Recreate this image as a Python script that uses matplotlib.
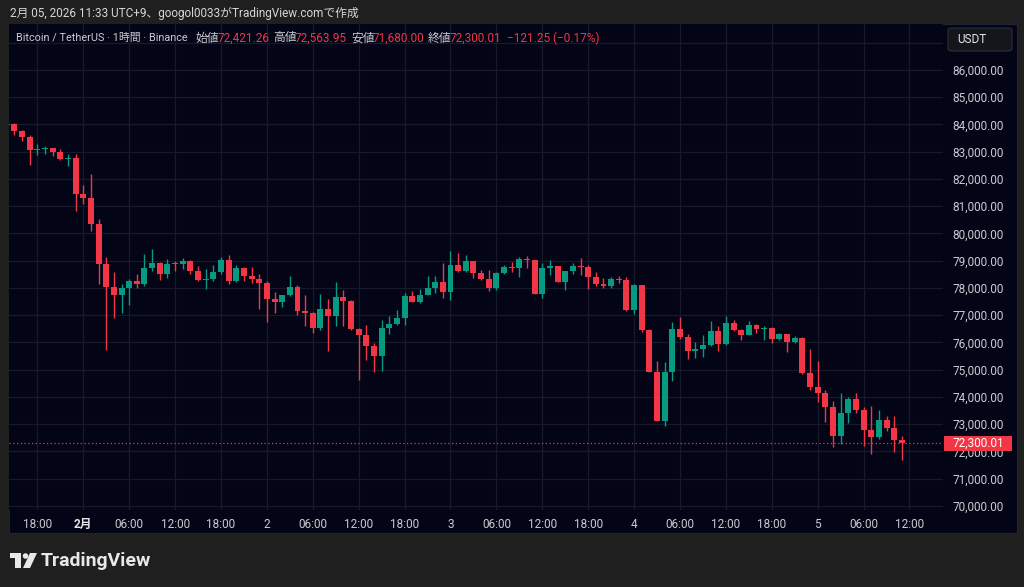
import matplotlib
matplotlib.use("Agg")
import matplotlib.pyplot as plt
from matplotlib.patches import Rectangle, FancyBboxPatch, Ellipse, Polygon

plt.rcParams['font.family'] = ['Roboto', 'Noto Sans CJK JP', 'DejaVu Sans']

# hourly candles, hour 0 = 2月1日 00:00 (UTC+9)
hours = list(range(-10, 108))
opens = [83990, 84000, 83755, 83535, 83058, 83095, 83130, 83000, 82740, 82780,
         81456, 81285, 80340, 78875, 78031, 77737, 77982, 78275, 78130, 78728,
         78900, 78508, 78895, 78870, 79000, 78620, 78290, 78320, 78580, 79020,
         78250, 78730, 78430, 78315, 78190, 77580, 77480, 77740, 78020, 77165,
         77090, 76516, 77240, 76960, 77655, 77520, 76490, 76285, 75880, 75500,
         76550, 76665, 76885, 77715, 77495, 77750, 77985, 78230, 77840, 78840,
         78620, 78990, 78560, 78330, 78000, 78535, 78780, 78745, 79060, 79025,
         77790, 78745, 78790, 78230, 78610, 78790, 78755, 78400, 78130, 78070,
         78315, 78290, 77190, 78120, 76470, 74905, 73130, 74930, 76480, 76215,
         75690, 75760, 75910, 76420, 75945, 76700, 76470, 76275, 76640, 76500,
         76550, 76115, 76300, 76005, 76165, 74870, 74355, 74135, 73615, 72560,
         73410, 73920, 73505, 72795, 72525, 73150, 72855, 72421.26]
highs = [84030, 84037, 83790, 83620, 83300, 83200, 83150, 83110, 82900, 82924,
         81786, 82190, 80535, 79120, 78570, 78130, 78336, 78500, 79230, 79413,
         78948, 79046, 78985, 79110, 79020, 78800, 78680, 78860, 79120, 79200,
         78860, 78755, 78755, 78510, 78265, 77838, 77740, 78437, 78110, 77740,
         77130, 77777, 77600, 78230, 77935, 77545, 76550, 76640, 75980, 76835,
         76960, 77190, 77815, 77885, 77960, 78450, 78450, 78900, 79340, 79280,
         79210, 78990, 78670, 78660, 78570, 78850, 78960, 79120, 79180, 79025,
         78910, 79010, 78790, 78640, 78925, 79100, 78840, 78580, 78350, 78410,
         78450, 78410, 78140, 78120, 76500, 75320, 75300, 76740, 76950, 76300,
         76000, 76275, 76800, 76620, 76985, 76830, 76510, 76790, 76670, 76590,
         76580, 76340, 76300, 76250, 76190, 75760, 75320, 74250, 73850, 74140,
         73990, 74140, 73625, 73675, 73530, 73320, 73320, 72563.95]
lows = [83960, 83620, 83390, 82530, 82890, 82900, 82840, 82690, 82470, 80820,
        81065, 80086, 78153, 75718, 76905, 77077, 77370, 77982, 78070, 78630,
        78287, 78360, 78640, 78700, 78520, 78250, 77945, 78240, 78530, 78130,
        78225, 78240, 78200, 77226, 76760, 77080, 77300, 77715, 77006, 76615,
        76346, 76470, 75700, 76615, 76615, 76470, 74620, 75360, 74900, 74960,
        76310, 76640, 76650, 77470, 77460, 77740, 77810, 77630, 77570, 78600,
        78600, 78380, 78300, 77900, 77940, 78500, 78570, 78410, 78720, 77780,
        77650, 78470, 78230, 77930, 78500, 78490, 77950, 78080, 78000, 78000,
        78170, 77150, 77040, 76400, 74900, 73130, 72950, 74590, 76130, 75400,
        75420, 75470, 75880, 75700, 75920, 76410, 76100, 76260, 76340, 76080,
        75970, 76090, 75660, 75980, 74845, 74270, 73800, 73090, 72170, 72280,
        73050, 73420, 72210, 71890, 72475, 72760, 71990, 71680.00]
closes = [84010, 83755, 83535, 83058, 83095, 83130, 83000, 82740, 82780, 81456,
          81285, 80340, 78875, 78031, 77737, 77982, 78275, 78130, 78728, 78900,
          78508, 78895, 78870, 79000, 78620, 78290, 78320, 78580, 79020, 78250,
          78730, 78430, 78315, 78190, 77580, 77480, 77740, 78020, 77165, 77090,
          76516, 77240, 76960, 77655, 77520, 76490, 76285, 75880, 75500, 76550,
          76665, 76885, 77715, 77495, 77750, 77985, 78230, 77840, 78840, 78620,
          78990, 78560, 78330, 78000, 78535, 78780, 78745, 79060, 79025, 77790,
          78745, 78790, 78230, 78610, 78790, 78755, 78400, 78130, 78070, 78315,
          78290, 77190, 78120, 76470, 74905, 73130, 74930, 76480, 76215, 75690,
          75760, 75910, 76420, 75945, 76700, 76470, 76275, 76640, 76500, 76550,
          76115, 76300, 76005, 76165, 74870, 74355, 74135, 73615, 72560, 73410,
          73920, 73505, 72795, 72525, 73150, 72855, 72421, 72300.01]

price_ticks = list(range(70000, 87000, 1000))
grid_prices = list(range(70000, 88000, 1000))
time_ticks = list(range(-6, 109, 6))
time_labels = ["18:00", "2月", "06:00", "12:00", "18:00", "2", "06:00", "12:00",
               "18:00", "3", "06:00", "12:00", "18:00", "4", "06:00", "12:00",
               "18:00", "5", "06:00", "12:00"]
last_price = 72300.01

W, H = 1024, 587
RED = "#f23645"
GREEN = "#089981"
NAVY = "#030516"
GRIDC = "#161a2a"
TXT = "#c9cbd2"


def rect(x, y, w, h, **kw):
    return Rectangle((x / W, 1 - (y + h) / H), w / W, h / H,
                     transform=fig.transFigure, **kw)


fig = plt.figure(figsize=(W / 100, H / 100), dpi=100, facecolor="#1f1f1f")

# chart panel
fig.patches.append(rect(9, 24, 1008, 509, facecolor=NAVY, edgecolor="#1f2333",
                        lw=0.8, zorder=-5))

ax = fig.add_axes([9 / W, 1 - 510 / H, (943 - 9) / W, (510 - 24) / H])
ax.set_facecolor(NAVY)
ax.set_xlim(-9.71, 112.38)
ax.set_ylim(69853, 87688)
for s in ax.spines.values():
    s.set_visible(False)

for p in grid_prices:
    ax.axhline(p, color=GRIDC, lw=0.9, zorder=0)
for t in time_ticks:
    ax.axvline(t, color=GRIDC, lw=0.9, zorder=0)

# candles
cols = [GREEN if c >= o else RED for o, c in zip(opens, closes)]
bottoms = [min(o, c) for o, c in zip(opens, closes)]
heights = [max(abs(c - o), 40) for o, c in zip(opens, closes)]
ax.vlines(hours, lows, highs, colors=cols, lw=1.0, zorder=2)
ax.bar(hours, heights, bottom=bottoms, width=0.78, color=cols, lw=0, zorder=3)

ax.axhline(last_price, color=RED, lw=0.9, ls=(0, (1, 2)), zorder=4)

# axes ticks
ax.yaxis.tick_right()
ax.set_yticks(price_ticks)
ax.set_yticklabels([f"{p:,.2f}" for p in price_ticks])
ax.tick_params(axis="y", length=0, pad=6.5, labelsize=8.5, labelcolor=TXT)
ax.set_xticks(time_ticks)
ax.set_xticklabels(time_labels)
ax.tick_params(axis="x", length=0, pad=6, labelsize=8.5, labelcolor=TXT)
for lbl in ax.get_xticklabels():
    if lbl.get_text() == "2月":
        lbl.set_fontweight("bold")
        lbl.set_color("#e6e7ea")

# last price tag (covers the 72,000.00 label as in TradingView)
fig.patches.append(rect(944, 436, 68, 15, facecolor=RED, lw=0, zorder=5))
fig.text(978 / W, 1 - 443.5 / H, f"{last_price:,.2f}", color="white",
         fontsize=8.5, ha="center", va="center", zorder=6)

# USDT button
fig.patches.append(FancyBboxPatch((948 / W, 1 - 51 / H), 64 / W, 23 / H,
                                  boxstyle="round,pad=0,rounding_size=0.004",
                                  transform=fig.transFigure, facecolor="#15161c",
                                  edgecolor="#2c2f3a", lw=0.8, zorder=5))
fig.text(957 / W, 1 - 39.5 / H, "USDT", color="#e3e4e8", fontsize=8.5,
         va="center", zorder=6)

# title line
fig.text(10 / W, 1 - 13 / H, "2月 05, 2026 11:33 UTC+9、googol0033がTradingView.comで作成",
         color="#d6d6d6", fontsize=8.5, va="center")

hdr_y = 1 - 38 / H
pieces = [
    (16, "Bitcoin / TetherUS · 1時間 · Binance", TXT, 7.8),
    (196, "始値", TXT, 8.5), (218, "72,421.26", RED, 8.5),
    (273, "高値", TXT, 8.5), (295, "72,563.95", RED, 8.5),
    (351, "安値", TXT, 8.5), (373, "71,680.00", RED, 8.5),
    (428, "終値", TXT, 8.5), (450, "72,300.01", RED, 8.5),
    (507, "−121.25 (−0.17%)", RED, 8.5),
]
for x, s, c, fs in pieces:
    fig.text(x / W, hdr_y, s, color=c, fontsize=fs, va="center")

# TradingView logo
fig.patches.append(rect(10, 553, 11, 5, facecolor="#e8e8e8", lw=0))
fig.patches.append(rect(15, 553, 6, 15, facecolor="#e8e8e8", lw=0))
fig.patches.append(Ellipse((25.5 / W, 1 - 556 / H), 5.5 / W, 5.5 / H,
                           transform=fig.transFigure, facecolor="#e8e8e8", lw=0))
fig.patches.append(Polygon([(30 / W, 1 - 553 / H), (37 / W, 1 - 553 / H),
                            (30 / W, 1 - 568 / H), (23 / W, 1 - 568 / H)],
                           closed=True, transform=fig.transFigure,
                           facecolor="#e8e8e8", lw=0))
fig.text(41 / W, 1 - 561 / H, "TradingView", color="#e8e8e8", fontsize=14,
         fontweight="bold", va="center")

fig.savefig("out.png", dpi=100, facecolor=fig.get_facecolor())
